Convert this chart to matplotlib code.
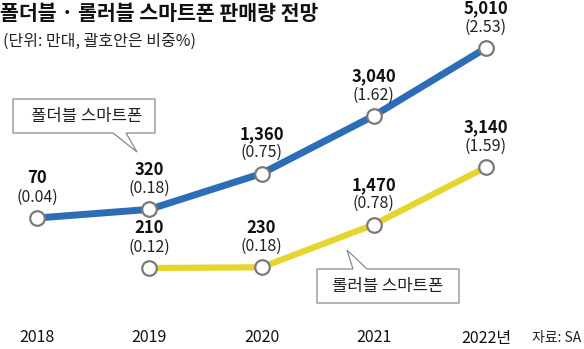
import matplotlib
matplotlib.use("Agg")
import matplotlib.pyplot as plt
from matplotlib.patches import Polygon

plt.rcParams['font.family'] = ['Noto Sans CJK KR', 'DejaVu Sans']

years = [2018, 2019, 2020, 2021, 2022]
year_labels = ['2018', '2019', '2020', '2021', '2022년']

fold_years = [2018, 2019, 2020, 2021, 2022]
fold_units = [70, 320, 1360, 3040, 5010]
fold_share = [0.04, 0.18, 0.75, 1.62, 2.53]

roll_years = [2019, 2020, 2021, 2022]
roll_units = [210, 230, 1470, 3140]
roll_share = [0.12, 0.18, 0.78, 1.59]

W, H = 584, 349
fig = plt.figure(figsize=(W / 100, H / 100), dpi=100)
fig.patch.set_facecolor('white')

xlim = (2018 - 37 / 112.25, 2018 + (W - 37) / 112.25)
ppu = 0.03441  # pixels per unit (same scale for both series)

ax = fig.add_axes([0, 0, 1, 1])
ax.set_xlim(*xlim)
ax.set_ylim(70 - (H - 218) / ppu, 70 + 218 / ppu)
ax.axis('off')

ax2 = fig.add_axes([0, 0, 1, 1], sharex=ax)
ax2.set_ylim(210 - (H - 268) / ppu, 210 + 268 / ppu)
ax2.axis('off')
ax2.patch.set_alpha(0)

blue = '#2d6cb6'
yellow = '#e5d52c'
mk = dict(marker='o', markersize=10.5, markerfacecolor='white',
          markeredgecolor='#7a7a7a', markeredgewidth=1.6)

ax.plot(fold_years, fold_units, color=blue, lw=5, solid_capstyle='butt', zorder=3, **mk)
ax2.plot(roll_years, roll_units, color=yellow, lw=4.5, solid_capstyle='butt', zorder=3, **mk)

def labels(a, xs, vs, ss):
    for x, v, s in zip(xs, vs, ss):
        a.annotate(f'{v:,}', (x, v), xytext=(0, 28.5), textcoords='offset points',
                   ha='center', va='center', fontsize=12, fontweight='bold', color='#111111')
        a.annotate(f'({s:.2f})', (x, v), xytext=(0, 15), textcoords='offset points',
                   ha='center', va='center', fontsize=11.5, color='#222222')

labels(ax, fold_years, fold_units, fold_share)
labels(ax2, roll_years, roll_units, roll_share)

# year axis labels
for x, lab in zip(years, year_labels):
    ax.annotate(lab, (x, 0), xycoords=('data', 'figure pixels'), xytext=(0, 11),
                textcoords='offset pixels', ha='center', va='center', fontsize=11.5, color='#111111')

fig.text(581 / W, 1 - 338 / H, '자료: SA', ha='right', va='center', fontsize=10, color='#222222')

# title and subtitle
fig.text(0 / W, 1 - 13 / H, '폴더블 · 롤러블 스마트폰 판매량 전망', ha='left', va='center',
         fontsize=14.8, fontweight='bold', color='#111111')
fig.text(3 / W, 1 - 41 / H, '(단위: 만대, 괄호안은 비중%)', ha='left', va='center',
         fontsize=11.5, color='#222222')

def callout(pts, text, center):
    poly = Polygon([(px / W, 1 - py / H) for px, py in pts], closed=True,
                   transform=fig.transFigure, facecolor='white', edgecolor='#8a8a8a', lw=0.9, zorder=5)
    fig.add_artist(poly)
    fig.text(center[0] / W, 1 - center[1] / H, text, ha='center', va='center',
             fontsize=12, color='#222222', zorder=6)

callout([(13, 99), (155, 99), (155, 133), (126, 133), (137, 152), (113, 133), (13, 133)],
        '폴더블 스마트폰', (87, 116))
callout([(317, 269), (353, 269), (347, 250), (367, 269), (459, 269), (459, 303), (317, 303)],
        '롤러블 스마트폰', (388, 286))

fig.savefig('out.png', dpi=100, facecolor='white')
